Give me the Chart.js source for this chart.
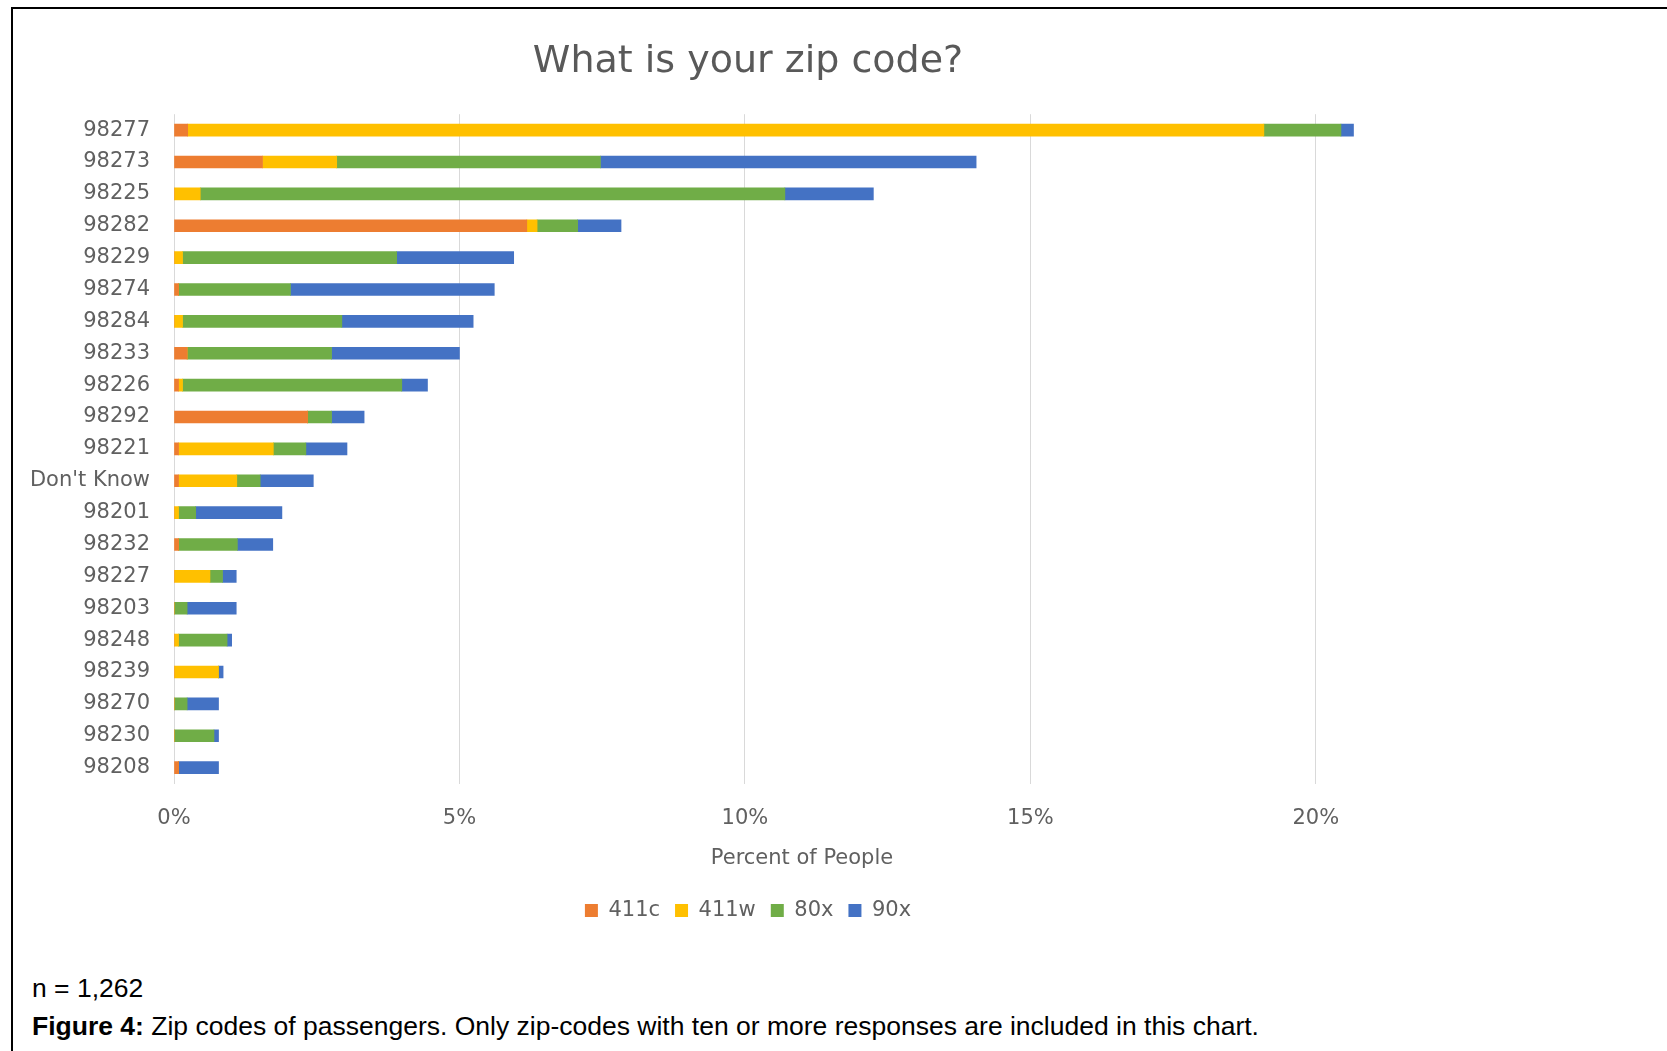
<!DOCTYPE html>
<html>
<head>
<meta charset="utf-8">
<script src="https://cdn.jsdelivr.net/npm/chart.js@4/dist/chart.umd.min.js"></script>
<style>
  html, body { margin: 0; padding: 0; background: #fff; }
  body { width: 1667px; height: 1051px; position: relative; overflow: hidden; }
  #frame {
    position: absolute; left: 11px; top: 7px; right: 0; bottom: 0;
    border-top: 2px solid #000; border-left: 2px solid #000;
  }
  #wrap { position: absolute; left: 32px; top: 20px; width: 1432px; height: 911px; }
  .note {
    position: absolute; left: 32px; margin: 0;
    font-family: "Liberation Sans", Arial, sans-serif; font-size: 26.5px; color: #000;
    white-space: nowrap; line-height: 1;
  }
  #n { top: 975px; }
  #cap { top: 1013px; }
</style>
</head>
<body>
<div id="frame"></div>
<div id="wrap"><canvas id="chart"></canvas></div>
<p class="note" id="n">n = 1,262</p>
<p class="note" id="cap"><b>Figure 4:</b> Zip codes of passengers. Only zip-codes with ten or more responses are included in this chart.</p>
<script>
// Zip codes, top to bottom
const zipCodes = ['98277', '98273', '98225', '98282', '98229', '98274', '98284', '98233', '98226', '98292',
  '98221', "Don't Know", '98201', '98232', '98227', '98203', '98248', '98239', '98270', '98230', '98208'];

// Percent of people per route, for each zip code
const route411c = [0.24, 1.55, 0, 6.18, 0, 0.08, 0, 0.23, 0.08, 2.34, 0.08, 0.08, 0, 0.08, 0, 0, 0, 0, 0, 0, 0.08];
const route411w = [18.85, 1.30, 0.46, 0.18, 0.15, 0, 0.15, 0, 0.07, 0, 1.66, 1.02, 0.08, 0, 0.63, 0, 0.08, 0.78, 0, 0, 0];
const route80x  = [1.35, 4.62, 10.24, 0.71, 3.75, 1.96, 2.79, 2.53, 3.84, 0.42, 0.57, 0.41, 0.30, 1.03, 0.22, 0.23, 0.85, 0, 0.23, 0.70, 0];
const route90x  = [0.22, 6.58, 1.55, 0.76, 2.05, 3.57, 2.30, 2.24, 0.45, 0.57, 0.72, 0.93, 1.51, 0.62, 0.24, 0.86, 0.08, 0.08, 0.55, 0.08, 0.70];

const seriesNames = ['411c', '411w', '80x', '90x'];
const xTicks = [0, 5, 10, 15, 20];

const colors = ['#ED7D31', '#FFC000', '#70AD47', '#4472C4'];
const seriesData = [route411c, route411w, route80x, route90x];

const textGray = '#606060';
const fontFamily = '"DejaVu Sans", sans-serif';

new Chart(document.getElementById('chart'), {
  type: 'bar',
  data: {
    labels: zipCodes,
    datasets: seriesNames.map((name, i) => ({
      label: name,
      data: seriesData[i],
      backgroundColor: colors[i],
      borderWidth: 0,
      barThickness: 12
    }))
  },
  options: {
    indexAxis: 'y',
    responsive: true,
    maintainAspectRatio: false,
    animation: false,
    // equal side padding keeps the title and legend centred on the figure
    layout: { padding: { left: 34, right: 34, top: 0, bottom: 0 } },
    plugins: {
      title: {
        display: true,
        text: 'What is your zip code?',
        color: '#595959',
        font: { family: fontFamily, size: 38, weight: 'normal' },
        padding: { top: 19, bottom: 29.6 }
      },
      legend: {
        position: 'bottom',
        labels: {
          color: textGray,
          font: { family: fontFamily, size: 21 },
          boxWidth: 13,
          boxHeight: 13,
          padding: 15
        }
      },
      tooltip: { enabled: false }
    },
    scales: {
      x: {
        stacked: true,
        min: 0,
        max: 22,
        afterBuildTicks: (axis) => { axis.ticks = xTicks.map(v => ({ value: v })); },
        grid: { color: '#d9d9d9', lineWidth: 1, drawTicks: false },
        border: { display: false },
        ticks: {
          color: textGray,
          padding: 22,
          font: { family: fontFamily, size: 21 },
          callback: (v) => v + '%'
        },
        title: {
          display: true,
          text: 'Percent of People',
          color: textGray,
          font: { family: fontFamily, size: 21 },
          padding: { top: -7, bottom: 14 }
        }
      },
      y: {
        stacked: true,
        grid: { display: false, drawTicks: false },
        border: { display: false },
        // labels hang into the left padding; the axis box itself stays narrow,
        // so the label clip area is switched off to keep long labels whole
        afterFit: (scale) => {
          scale.width = 108;
          scale._computeLabelArea = () => undefined;
        },
        ticks: {
          color: textGray,
          padding: 24,
          autoSkip: false,
          font: { family: fontFamily, size: 21 }
        }
      }
    }
  }
});
</script>
</body>
</html>
